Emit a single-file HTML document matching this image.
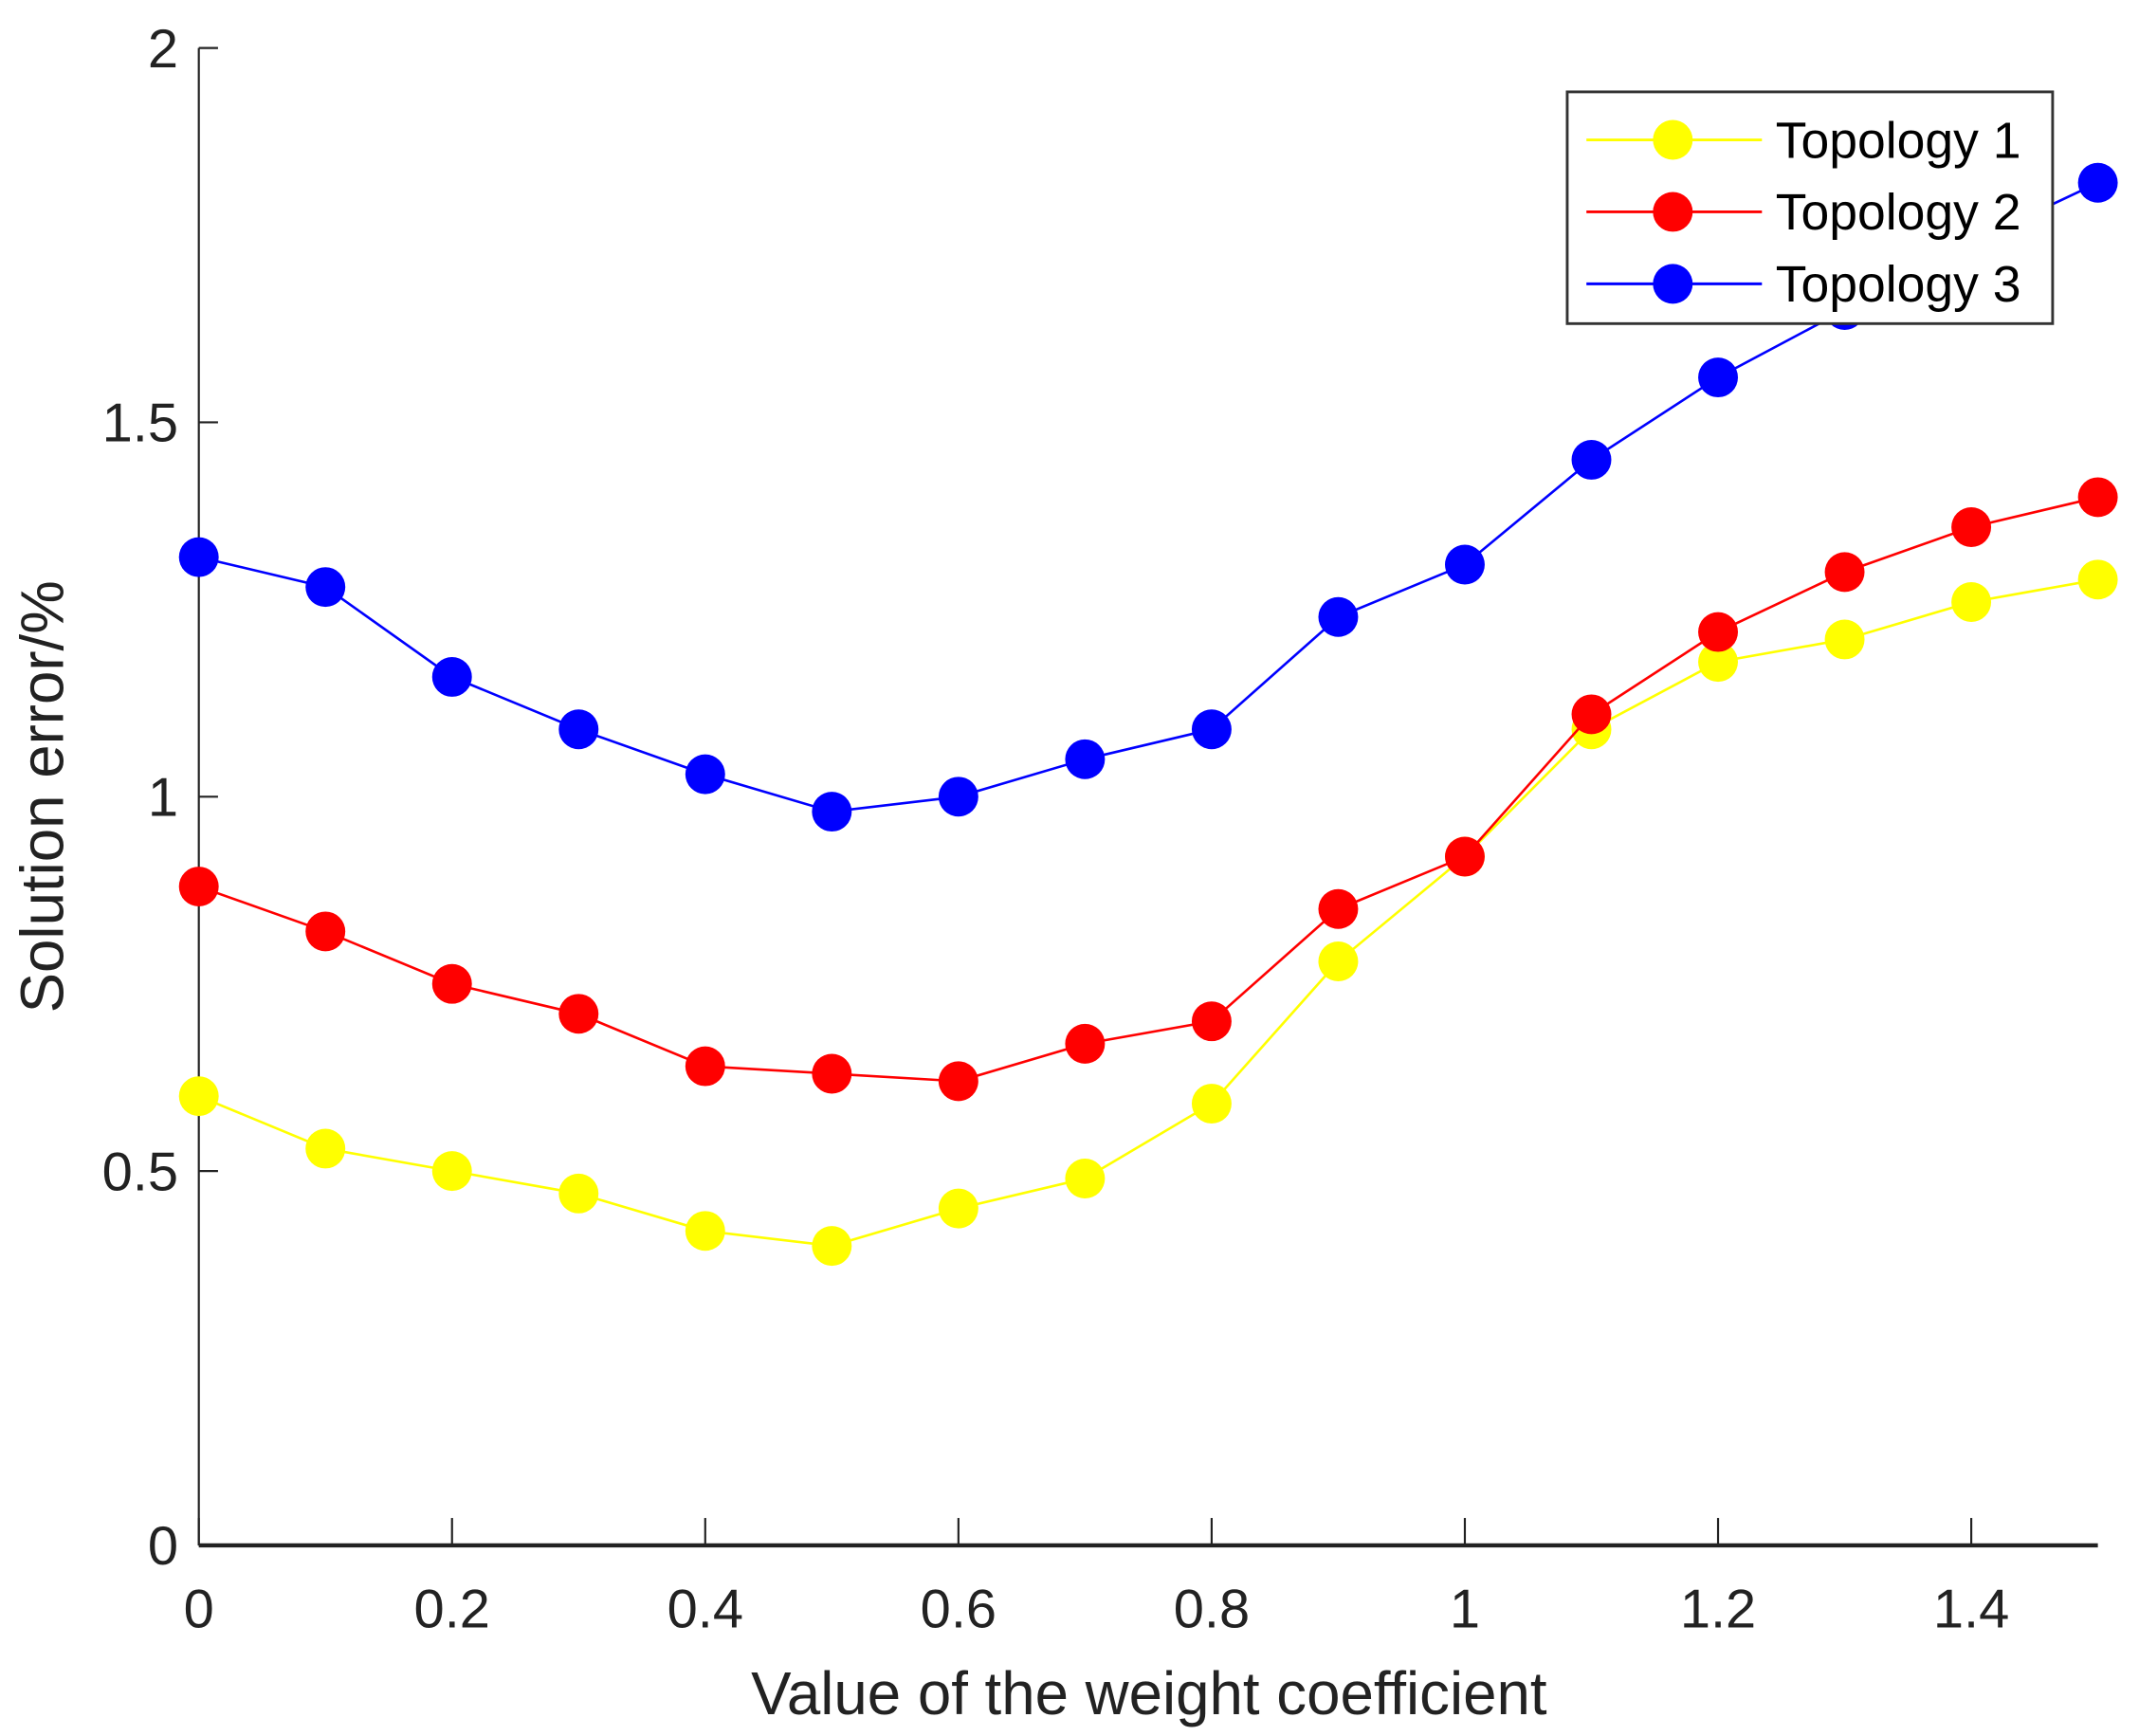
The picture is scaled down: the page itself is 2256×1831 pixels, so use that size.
<!DOCTYPE html>
<html><head><meta charset="utf-8"><style>html,body{margin:0;padding:0;background:#fff}svg{display:block}</style></head>
<body>
<svg id="chart" width="2256" height="1831" viewBox="0 0 1560 1266" preserveAspectRatio="none" xmlns="http://www.w3.org/2000/svg" font-family="Liberation Sans, sans-serif">
<rect width="1560" height="1266" fill="#fff"/>
<g id="axes"></g>
<g id="series"></g>
<g id="legend">
<rect x="1143" y="67" width="354" height="169" fill="#fff" stroke="#333" stroke-width="2"/>
</g>
</svg>
<script>
const xValues=[0,0.1,0.2,0.3,0.4,0.5,0.6,0.7,0.8,0.9,1.0,1.1,1.2,1.3,1.4,1.5];
const topology1=[0.6,0.53,0.5,0.47,0.42,0.4,0.45,0.49,0.59,0.78,0.92,1.09,1.18,1.21,1.26,1.29];
const topology2=[0.88,0.82,0.75,0.71,0.64,0.63,0.62,0.67,0.70,0.85,0.92,1.11,1.22,1.30,1.36,1.40];
const topology3=[1.32,1.28,1.16,1.09,1.03,0.98,1.0,1.05,1.09,1.24,1.31,1.45,1.56,1.65,1.74,1.82];
const seriesNames=["Topology 1","Topology 2","Topology 3"];
const xTicks=[0,0.2,0.4,0.6,0.8,1,1.2,1.4];
const xTickLabels=["0","0.2","0.4","0.6","0.8","1","1.2","1.4"];
const yTicks=[0,0.5,1,1.5,2];
const yTickLabels=["0","0.5","1","1.5","2"];

const NS="http://www.w3.org/2000/svg";
const X0=145,X1=1530,Y0=1127,Y1=35;
function sx(v){return X0+(v-0)/(1.5-0)*(X1-X0);}
function sy(v){return Y0-(v-0)/(2-0)*(Y0-Y1);}
function mk(tag,attrs,parent){const e=document.createElementNS(NS,tag);for(const k in attrs)e.setAttribute(k,attrs[k]);parent.appendChild(e);return e;}
const axes=document.getElementById('axes');
let l=mk('line',{x1:X0,y1:Y1,x2:X0,y2:Y0,stroke:'#222','stroke-width':1.5},axes);


l=mk('line',{x1:X0,y1:Y0,x2:X1,y2:Y0,stroke:'#222','stroke-width':3},axes);


xTicks.forEach((v,i)=>{
  const t=mk('line',{x1:sx(v),y1:Y0,x2:sx(v),y2:Y0-20,stroke:'#222','stroke-width':1.5},axes);
  
  
  const tx=mk('text',{x:sx(v),y:1187,'text-anchor':'middle','font-size':40,fill:'#222'},axes);
  tx.textContent=xTickLabels[i];
  
  
});
yTicks.forEach((v,i)=>{
  const t=mk('line',{x1:X0,y1:sy(v),x2:X0+14,y2:sy(v),stroke:'#222','stroke-width':1.5},axes);
  
  
  const tx=mk('text',{x:130,y:sy(v)+14,'text-anchor':'end','font-size':40,fill:'#222'},axes);
  tx.textContent=yTickLabels[i];
  
  
});
let xt=mk('text',{x:838,y:1250,'text-anchor':'middle','font-size':44,fill:'#222'},axes);
xt.textContent='Value of the weight coefficient';


let yt=mk('text',{x:0,y:0,'text-anchor':'middle','font-size':44,fill:'#222',transform:'translate(46,581) rotate(-90)'},axes);
yt.textContent='Solution error/%';



const colors=['#ffff00','#ff0000','#0000ff'];
const data=[topology1,topology2,topology3];
const sg=document.getElementById('series');
data.forEach((arr,si)=>{
  const g=mk('g',{},sg);
  
  
  const pl=mk('polyline',{points:arr.map((v,i)=>sx(xValues[i])+','+sy(v)).join(' '),fill:'none',stroke:colors[si],'stroke-width':1.8},g);
  
  
  arr.forEach((v,i)=>{
    const c=mk('circle',{cx:sx(xValues[i]),cy:sy(v),r:14.5,fill:colors[si]},g);
    
    
  });
});
const lg=document.getElementById('legend');
seriesNames.forEach((n,i)=>{
  const y=102+i*52.5;
  const g=mk('g',{},lg);
  
  
  mk('line',{x1:1157,y1:y,x2:1285,y2:y,stroke:colors[i],'stroke-width':2},g);
  mk('circle',{cx:1220,cy:y,r:14.5,fill:colors[i]},g);
  const t=mk('text',{x:1295,y:y+13,'font-size':37,fill:'#000'},g);
  t.textContent=n;
});
</script>
</body></html>
